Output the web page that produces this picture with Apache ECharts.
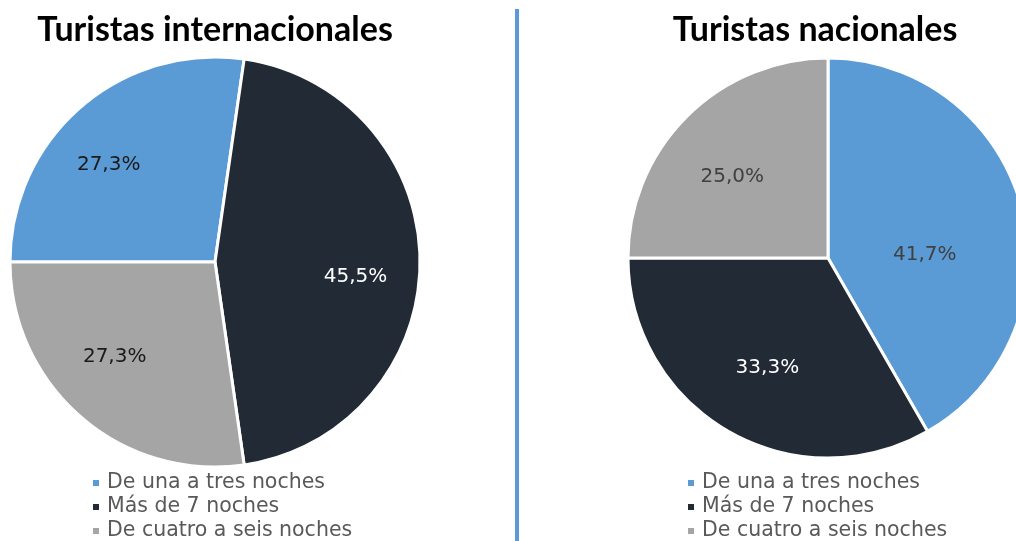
<!DOCTYPE html>
<html>
<head>
<meta charset="utf-8">
<script src="https://cdn.jsdelivr.net/npm/echarts@6/dist/echarts.min.js"></script>
<style>
html,body{margin:0;padding:0;background:#fff;}
#chart{width:1016px;height:541px;}
</style>
</head>
<body>
<div id="chart"></div>
<script>
const categories = ['De una a tres noches', 'Más de 7 noches', 'De cuatro a seis noches'];
const internacionales = [27.3, 45.5, 27.3];
const nacionales = [41.7, 33.3, 25.0];
const titles = ['Turistas internacionales', 'Turistas nacionales'];
const colors = ['#5B9BD5', '#222A35', '#A5A5A5'];

const FONT = 'DejaVu Sans';
const fmt = p => p.value.toFixed(1).replace('.', ',') + '%';

function mainPie(values, center, radius, startAngle) {
  return {
    type: 'pie', center: center, radius: radius, startAngle: startAngle, clockwise: true,
    silent: true,
    itemStyle: { borderColor: '#fff', borderWidth: 3 },
    label: { show: false }, labelLine: { show: false },
    data: categories.map((c, i) => ({ name: c, value: values[i], itemStyle: { color: colors[i] } }))
  };
}
function labelPie(values, center, radius, startAngle, labelColors, offsets) {
  return {
    type: 'pie', center: center, radius: radius, startAngle: startAngle, clockwise: true,
    silent: true, legendHoverLink: false,
    itemStyle: { color: 'rgba(0,0,0,0)', borderWidth: 0 },
    labelLine: { show: false },
    data: categories.map((c, i) => ({
      name: c, value: values[i],
      label: { show: true, position: 'inside', formatter: fmt, color: labelColors[i],
               fontFamily: FONT, fontSize: 20, fontWeight: 'normal', offset: offsets[i] }
    }))
  };
}
function legend(left) {
  return {
    orient: 'vertical', left: left, top: 471, height: 80, padding: 0,
    icon: 'rect', itemWidth: 8, itemHeight: 8,
    itemGap: 0, selectedMode: false, data: categories,
    textStyle: { fontFamily: FONT, fontSize: 20.5, color: '#595959', lineHeight: 24, padding: [0, 0, 0, 2] }
  };
}

const chart = echarts.init(document.getElementById('chart'), null, { renderer: 'canvas' });
chart.setOption({
  animation: false,
  legend: [legend(91), legend(686)],
  graphic: [
    { type: 'text', style: { x: 215, y: 30, text: titles[0], textAlign: 'center', textVerticalAlign: 'middle',
      font: 'bold 34px Lato', fill: '#000' } },
    { type: 'text', style: { x: 815, y: 30, text: titles[1], textAlign: 'center', textVerticalAlign: 'middle',
      font: 'bold 34px Lato', fill: '#000' } },
    { type: 'line', shape: { x1: 517, y1: 9, x2: 517, y2: 541 }, style: { stroke: '#5B9BD5', lineWidth: 4 } }
  ],
  series: [
    mainPie(internacionales, [215, 262], [0, 205], 180),
    mainPie(nacionales, [828, 258], [0, 200], 90),
    labelPie(internacionales, [215, 262], [74, 205], 180, ['#1a1a1a', '#ffffff', '#1a1a1a'], [[-13,10],[-2,15],[-7,-13]]),
    labelPie(nacionales, [828, 258], [48, 200], 90, ['#404040', '#ffffff', '#404040'], [[-26,30],[3,0],[-6,9]])
  ]
});
</script>
</body>
</html>
